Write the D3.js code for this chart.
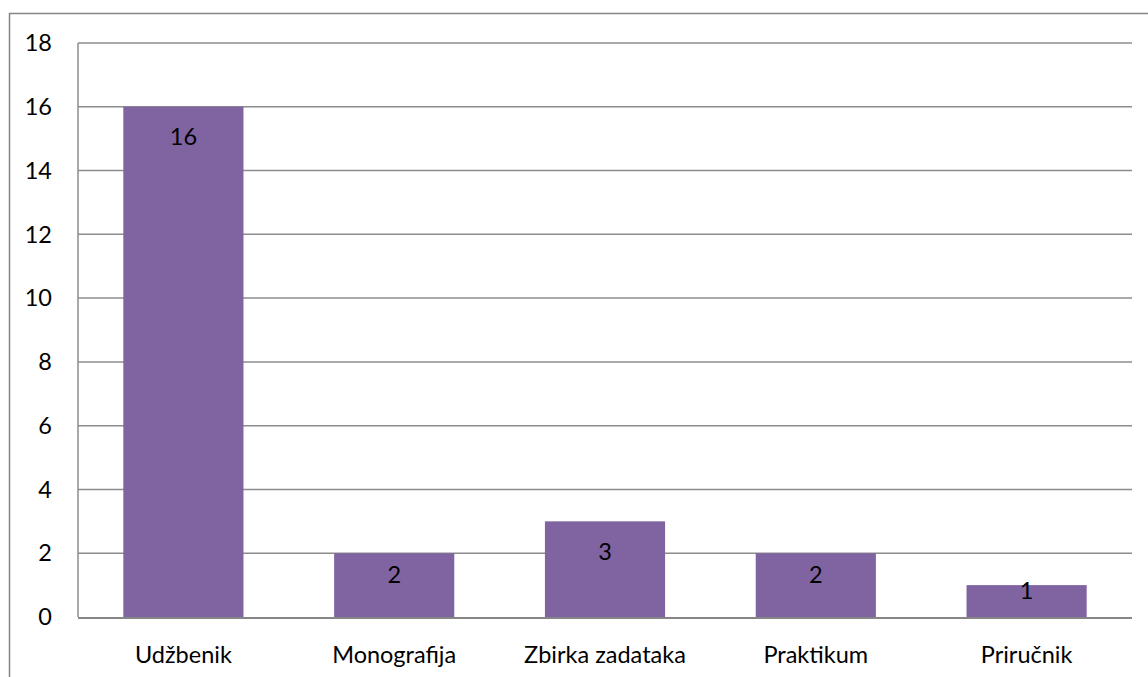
<!DOCTYPE html>
<html><head><meta charset="utf-8">
<script src="https://cdn.jsdelivr.net/npm/d3@7"></script>
<style>html,body{margin:0;padding:0;background:#fff;}svg{display:block;}</style>
</head><body>
<svg id="c" width="1148" height="677"></svg>
<script>
const categories = ["Udžbenik","Monografija","Zbirka zadataka","Praktikum","Priručnik"];
const values = [16,2,3,2,1];
const yTicks = [0,2,4,6,8,10,12,14,16,18];

const svg = d3.select("#c");
const font = "Lato, 'Open Sans', sans-serif";
const fs = 23.5;
const m = {left:78, right:1132, top:43, bottom:617};

svg.append("rect").attr("x",9.5).attr("y",13.5).attr("width",1200).attr("height",700)
  .attr("fill","none").attr("stroke","#868686").attr("stroke-width",1.5);

const x = d3.scaleBand().domain(categories).range([m.left,m.right]).paddingInner(0.43).paddingOuter(0.215);
const y = d3.scaleLinear().domain([0,18]).range([m.bottom,m.top]);

svg.append("g").selectAll("line").data(yTicks.filter(t=>t>0)).join("line")
  .attr("x1",m.left).attr("x2",m.right).attr("y1",d=>y(d)).attr("y2",d=>y(d))
  .attr("stroke","#8c8c8c").attr("stroke-width",1.5);

svg.append("line").attr("x1",m.left).attr("x2",m.left).attr("y1",m.top).attr("y2",m.bottom)
  .attr("stroke","#8c8c8c").attr("stroke-width",1.5);

svg.append("g").selectAll("rect").data(values).join("rect")
  .attr("x",(d,i)=>x(categories[i])).attr("width",x.bandwidth())
  .attr("y",d=>y(d)).attr("height",d=>y(0)-y(d)).attr("fill","#8064A2");

svg.append("line").attr("x1",m.left).attr("x2",m.right).attr("y1",m.bottom+1).attr("y2",m.bottom+1)
  .attr("stroke","#868686").attr("stroke-width",2);

svg.append("g").selectAll("text").data(yTicks).join("text")
  .attr("x",52).attr("y",d=>y(d)).attr("dy","0.35em").attr("text-anchor","end")
  .attr("font-family",font).attr("font-size",fs).attr("fill","#000").text(d=>d);

svg.append("g").selectAll("text").data(categories).join("text")
  .attr("x",d=>x(d)+x.bandwidth()/2).attr("y",655).attr("dy","0.35em").attr("text-anchor","middle")
  .attr("font-family",font).attr("font-size",fs).attr("fill","#000").text(d=>d);

svg.append("g").selectAll("text").data(values).join("text")
  .attr("x",(d,i)=>x(categories[i])+x.bandwidth()/2)
  .attr("y",d=>y(d)+Math.min(30,(y(0)-y(d))/2-10)).attr("dy","0.35em").attr("text-anchor","middle")
  .attr("font-family",font).attr("font-size",fs).attr("fill","#000").text(d=>d);
</script>
</body></html>
